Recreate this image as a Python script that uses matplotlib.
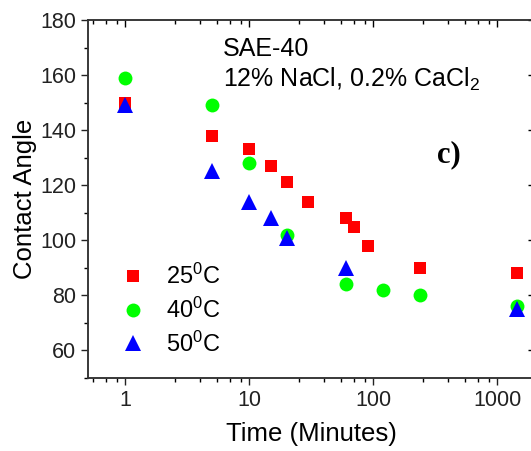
import matplotlib
matplotlib.use('Agg')
import matplotlib.pyplot as plt
from matplotlib.ticker import FixedLocator, FixedFormatter, NullFormatter, MultipleLocator

plt.rcParams['font.family'] = ['Liberation Sans', 'DejaVu Sans']
plt.rcParams['mathtext.fontset'] = 'custom'
plt.rcParams['mathtext.rm'] = 'Liberation Sans'
plt.rcParams['mathtext.default'] = 'regular'

# data (time in minutes, contact angle in degrees)
t_25 = [1, 5, 10, 15, 20, 30, 60, 70, 90, 240, 1440]
ca_25 = [150, 138, 133, 127, 121, 114, 108, 105, 98, 90, 88]
t_40 = [1, 5, 10, 20, 60, 120, 240, 1440]
ca_40 = [159, 149, 128, 102, 84, 82, 80, 76]
t_50 = [1, 5, 10, 15, 20, 60, 1440]
ca_50 = [149, 125, 114, 108, 101, 90, 75]

labels = ['25$^0$C', '40$^0$C', '50$^0$C']
xticks = [1, 10, 100, 1000]
xticklabels = ['1', '10', '100', '1000']
xminor = [0.55, 0.7, 0.85, 2.5, 4, 5.5, 7, 8.5, 25, 40, 55, 70, 85,
          250, 400, 550, 700, 850]

fig = plt.figure(figsize=(5.31, 4.51), dpi=100)
pos = [88/531, (451-378)/451, 446.6/531, 358/451]
ax = fig.add_axes(pos)

ax.plot(t_25, ca_25, 's', color='#ff0000', ms=9.2, mew=0, label=labels[0])
ax.plot(t_40, ca_40, 'o', color='#00ff00', ms=10, mew=0, label=labels[1])
ax.plot(t_50, ca_50, '^', color='#0000ff', ms=12, mew=0, label=labels[2])

ax.set_xscale('log')
ax.set_xlim(0.5, 2000)
ax.set_ylim(50, 180)
ax.xaxis.set_major_locator(FixedLocator(xticks))
ax.xaxis.set_major_formatter(FixedFormatter(xticklabels))
ax.xaxis.set_minor_locator(FixedLocator(xminor))
ax.xaxis.set_minor_formatter(NullFormatter())
ax.yaxis.set_major_locator(MultipleLocator(20))
ax.yaxis.set_minor_locator(MultipleLocator(10))
ax.set_yticks([60, 80, 100, 120, 140, 160, 180])

ax.tick_params(which='major', direction='out', length=5, width=1, labelsize=15.5, colors='#222222')
ax.tick_params(which='minor', direction='out', length=3, width=1)
for s in ax.spines.values():
    s.set_linewidth(1.1)
    s.set_color('#333333')

# mirrored ticks on top and right, pointing inward
ax2 = fig.add_axes(pos, sharex=ax, sharey=ax, facecolor='none')
ax2.tick_params(which='both', direction='in', top=True, right=True, bottom=False, left=False,
                labelbottom=False, labelleft=False, width=1)
ax2.tick_params(which='major', length=5)
ax2.tick_params(which='minor', length=3)
for s in ax2.spines.values():
    s.set_linewidth(1.1)
    s.set_color('#333333')

ax.set_xlabel('Time (Minutes)', fontsize=18.5, labelpad=8)
ax.set_ylabel('Contact Angle', fontsize=18.5, labelpad=2)

ax.text(0.3016, 0.899, 'SAE-40', transform=ax.transAxes, fontsize=18, va='baseline')
ax.text(0.3016, 0.814, '12% NaCl, 0.2% CaCl$_2$', transform=ax.transAxes, fontsize=18, va='baseline')
ax.text(0.781, 0.604, 'c)', transform=ax.transAxes, fontsize=22, fontweight='bold',
        family='Liberation Serif', va='baseline')

ax.legend(loc='lower left', bbox_to_anchor=(0.0743, 0.06), frameon=False, fontsize=17,
          numpoints=1, handlelength=1.0, handletextpad=0.9, borderpad=0, borderaxespad=0,
          labelspacing=0.36)

fig.savefig('out.png', dpi=100)
